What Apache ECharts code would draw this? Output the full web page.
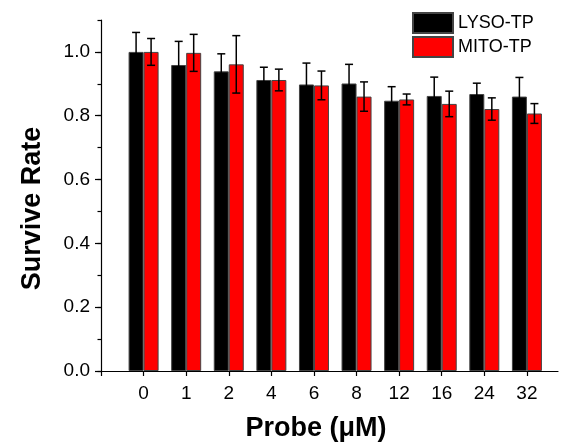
<!DOCTYPE html>
<html>
  <head>
    <meta charset="UTF-8" />
    <title>Survive Rate</title>
    <script src="https://cdn.jsdelivr.net/npm/echarts@6/dist/echarts.min.js"></script>
  </head>
  <body style="margin: 0; background: #fff">
    <div id="chart" style="width: 561px; height: 442px"></div>
  </body>
  <script>
    // data
    const categories = ["0", "1", "2", "4", "6", "8", "12", "16", "24", "32"];
    const lyso = [1.0, 0.959, 0.939, 0.912, 0.898, 0.901, 0.847, 0.862, 0.868, 0.86];
    const lysoErr = [0.061, 0.074, 0.055, 0.04, 0.067, 0.06, 0.044, 0.059, 0.034, 0.06];
    const mito = [1.0, 0.997, 0.961, 0.912, 0.895, 0.86, 0.851, 0.837, 0.821, 0.807];
    const mitoErr = [0.042, 0.058, 0.09, 0.034, 0.045, 0.046, 0.017, 0.04, 0.035, 0.031];
    const yTicks = [0, 0.2, 0.4, 0.6, 0.8, 1.0];

    const font = 'Arial, "Liberation Sans", sans-serif';
    const barW = 15;

    let chart = echarts.init(document.getElementById("chart"));

    const xIdx = categories.map((c, i) => i);

    function errorBars(values, errs, offset) {
      return {
        type: "custom",
        z: 5,
        silent: true,
        data: values.map((v, i) => [i, v, errs[i]]),
        renderItem: (params, api) => {
          const x = api.value(0), y = api.value(1), e = api.value(2);
          const top = api.coord([x, y + e]);
          const bot = api.coord([x, y - e]);
          const px = top[0] + offset;
          const st = { stroke: "#000", lineWidth: 1.5 };
          return {
            type: "group",
            children: [
              { type: "line", shape: { x1: px, y1: top[1], x2: px, y2: bot[1] }, style: st },
              { type: "line", shape: { x1: px - 4, y1: top[1], x2: px + 4, y2: top[1] }, style: st },
              { type: "line", shape: { x1: px - 4, y1: bot[1], x2: px + 4, y2: bot[1] }, style: st },
            ],
          };
        },
      };
    }

    chart.setOption({
      backgroundColor: "#fff",
      animation: false,
      textStyle: { fontFamily: font, color: "#000" },
      grid: { left: 101, right: 3, top: 20, bottom: 71, outerBoundsMode: "none" },
      legend: {
        orient: "vertical",
        left: 412,
        top: 12,
        padding: 0,
        icon: "rect",
        itemWidth: 40,
        itemHeight: 20,
        itemGap: 2,
        selectedMode: false,
        textStyle: { fontFamily: font, fontSize: 18, color: "#000" },
        data: ["LYSO-TP", "MITO-TP"],
      },
      xAxis: {
        type: "value",
        min: -1,
        max: 9.73,
        interval: 1,
        name: "Probe (\u03bcM)",
        nameLocation: "middle",
        nameGap: 44,
        nameTextStyle: { fontFamily: font, fontSize: 27, fontWeight: "bold", color: "#000", padding: [0, 27, 0, 0] },
        splitLine: { show: false },
        axisLine: { onZero: false, lineStyle: { color: "#000", width: 1.2 } },
        axisTick: { length: 5, lineStyle: { color: "#000", width: 1.2 }, customValues: [-1].concat(xIdx) },
        axisLabel: {
          fontSize: 19,
          color: "#000",
          margin: 13,
          customValues: xIdx,
          formatter: (v) => categories[Math.round(v)] ?? "",
        },
      },
      yAxis: [
        {
          type: "value",
          min: 0,
          max: 1.1,
          interval: 0.2,
          name: "Survive Rate",
          nameLocation: "middle",
          nameGap: 55,
          nameTextStyle: { fontFamily: font, fontSize: 27, fontWeight: "bold", color: "#000", padding: [0, 26, 0, 0] },
          splitLine: { show: false },
          axisLine: { onZero: false, lineStyle: { color: "#000", width: 1.2 } },
          axisTick: { length: 6, lineStyle: { color: "#000", width: 1.2 }, customValues: yTicks },
          axisLabel: {
            fontSize: 19,
            color: "#000",
            margin: 11,
            customValues: yTicks,
            formatter: (v) => v.toFixed(1),
          },
        },
        {
          type: "value",
          position: "left",
          min: 0,
          max: 1.1,
          interval: 0.1,
          splitLine: { show: false },
          axisLine: { show: false, onZero: false },
          axisTick: { length: 3.5, lineStyle: { color: "#000", width: 1.2 } },
          axisLabel: { show: false },
        },
      ],
      series: [
        {
          name: "LYSO-TP",
          type: "bar",
          barWidth: barW,
          barGap: "0%",
          itemStyle: { color: "#000", borderColor: "#444", borderWidth: 1 },
          data: lyso.map((v, i) => [i, v]),
        },
        {
          name: "MITO-TP",
          type: "bar",
          barWidth: barW,
          barGap: "0%",
          itemStyle: { color: "#ff0000", borderColor: "#444", borderWidth: 1 },
          data: mito.map((v, i) => [i, v]),
        },
        errorBars(lyso, lysoErr, -barW / 2),
        errorBars(mito, mitoErr, barW / 2),
      ],
    });
  </script>
</html>
